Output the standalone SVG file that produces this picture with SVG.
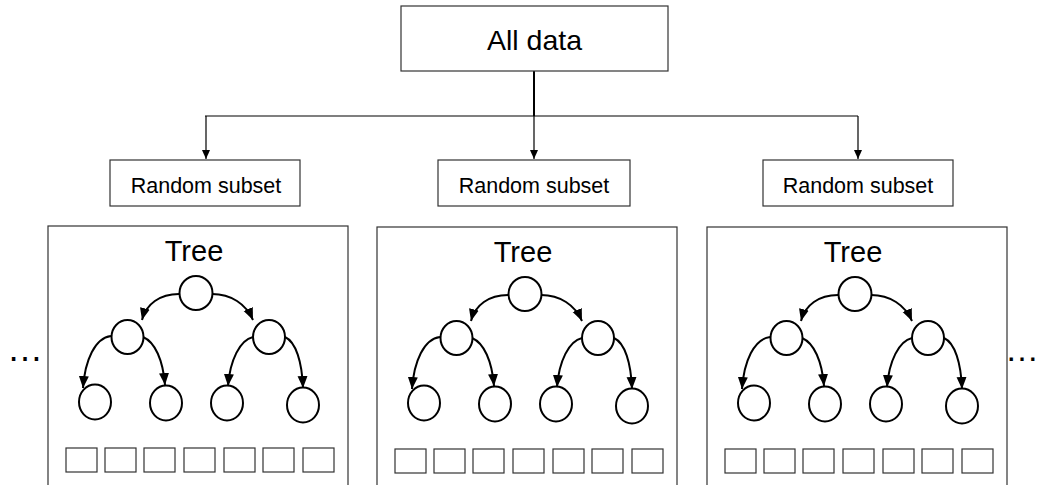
<svg xmlns="http://www.w3.org/2000/svg" width="1038" height="485" viewBox="0 0 1038 485">
<style>
text{font-family:"Liberation Sans",Arial,sans-serif;fill:#000}
.box{fill:#fff;stroke:#333;stroke-width:1.2}
.sq{fill:#fff;stroke:#333;stroke-width:1.2}
.nd{fill:#fff;stroke:#000;stroke-width:2}
.ta{fill:none;stroke:#000;stroke-width:2;marker-end:url(#ah)}
.ln{fill:none;stroke:#000;stroke-width:1.2}
</style>
<defs>
<marker id="ah" markerUnits="userSpaceOnUse" markerWidth="13" markerHeight="11" refX="12" refY="5" orient="auto">
<path d="M0,0 L12,5 L0,10 z" fill="#000"/>
</marker>
<marker id="ah2" markerUnits="userSpaceOnUse" markerWidth="10" markerHeight="10" refX="9" refY="4" orient="auto">
<path d="M0,0 L9,4 L0,8 z" fill="#000"/>
</marker>
</defs>
<g id="connectors">
<path d="M534,71 V116" fill="none" stroke="#000" stroke-width="2"/>
<path d="M205,116 H858" class="ln"/>
<path d="M206,116 V159" class="ln" marker-end="url(#ah2)"/>
<path d="M534,116 V159" class="ln" marker-end="url(#ah2)"/>
<path d="M858,116 V159" class="ln" marker-end="url(#ah2)"/>
</g>
<g id="all-data">
<rect x="401" y="6" width="267" height="65" class="box"/>
<text x="534.5" y="50" font-size="28.5" text-anchor="middle">All data</text>
</g>
<g id="subset-1">
<rect x="110" y="160" width="190" height="46" class="box"/>
<text x="206" y="192.5" font-size="21.5" text-anchor="middle">Random subset</text>
</g>
<g id="subset-2">
<rect x="438" y="160" width="192" height="46" class="box"/>
<text x="534" y="192.5" font-size="21.5" text-anchor="middle">Random subset</text>
</g>
<g id="subset-3">
<rect x="763" y="160" width="190" height="46" class="box"/>
<text x="858" y="192.5" font-size="21.5" text-anchor="middle">Random subset</text>
</g>
<g id="tree-1">
<rect x="48" y="226" width="300" height="270" class="box"/>
<text x="194" y="261" font-size="29" text-anchor="middle">Tree</text>
<path d="M179,294 C160,294 146,304 142,320" class="ta"/>
<path d="M212,294 C231,294 246,304 253,320" class="ta"/>
<path d="M111,336 C95,338 85,360 83,388" class="ta"/>
<path d="M143,337 C155,342 163,360 165,385" class="ta"/>
<path d="M253,337 C240,340 230,360 228,386" class="ta"/>
<path d="M285,337 C296,342 302,362 303,388" class="ta"/>
<ellipse cx="196" cy="293" rx="16.5" ry="17" class="nd"/>
<ellipse cx="127.5" cy="337" rx="16" ry="17" class="nd"/>
<ellipse cx="269" cy="337" rx="16" ry="17" class="nd"/>
<ellipse cx="95" cy="402" rx="16" ry="17.5" class="nd"/>
<ellipse cx="166" cy="403" rx="16" ry="17.5" class="nd"/>
<ellipse cx="227" cy="403" rx="16" ry="17.5" class="nd"/>
<ellipse cx="303" cy="405" rx="16" ry="17.5" class="nd"/>
<rect x="66" y="448" width="31" height="24" class="sq"/>
<rect x="105" y="448" width="31" height="24" class="sq"/>
<rect x="144" y="448" width="31" height="24" class="sq"/>
<rect x="184" y="448" width="31" height="24" class="sq"/>
<rect x="224" y="448" width="31" height="24" class="sq"/>
<rect x="263" y="448" width="31" height="24" class="sq"/>
<rect x="303" y="448" width="31" height="24" class="sq"/>
</g>
<g id="tree-2" transform="translate(329,1)">
<rect x="48" y="226" width="300" height="270" class="box"/>
<text x="194" y="261" font-size="29" text-anchor="middle">Tree</text>
<path d="M179,294 C160,294 146,304 142,320" class="ta"/>
<path d="M212,294 C231,294 246,304 253,320" class="ta"/>
<path d="M111,336 C95,338 85,360 83,388" class="ta"/>
<path d="M143,337 C155,342 163,360 165,385" class="ta"/>
<path d="M253,337 C240,340 230,360 228,386" class="ta"/>
<path d="M285,337 C296,342 302,362 303,388" class="ta"/>
<ellipse cx="196" cy="293" rx="16.5" ry="17" class="nd"/>
<ellipse cx="127.5" cy="337" rx="16" ry="17" class="nd"/>
<ellipse cx="269" cy="337" rx="16" ry="17" class="nd"/>
<ellipse cx="95" cy="402" rx="16" ry="17.5" class="nd"/>
<ellipse cx="166" cy="403" rx="16" ry="17.5" class="nd"/>
<ellipse cx="227" cy="403" rx="16" ry="17.5" class="nd"/>
<ellipse cx="303" cy="405" rx="16" ry="17.5" class="nd"/>
<rect x="66" y="448" width="31" height="24" class="sq"/>
<rect x="105" y="448" width="31" height="24" class="sq"/>
<rect x="144" y="448" width="31" height="24" class="sq"/>
<rect x="184" y="448" width="31" height="24" class="sq"/>
<rect x="224" y="448" width="31" height="24" class="sq"/>
<rect x="263" y="448" width="31" height="24" class="sq"/>
<rect x="303" y="448" width="31" height="24" class="sq"/>
</g>
<g id="tree-3" transform="translate(659,1)">
<rect x="48" y="226" width="300" height="270" class="box"/>
<text x="194" y="261" font-size="29" text-anchor="middle">Tree</text>
<path d="M179,294 C160,294 146,304 142,320" class="ta"/>
<path d="M212,294 C231,294 246,304 253,320" class="ta"/>
<path d="M111,336 C95,338 85,360 83,388" class="ta"/>
<path d="M143,337 C155,342 163,360 165,385" class="ta"/>
<path d="M253,337 C240,340 230,360 228,386" class="ta"/>
<path d="M285,337 C296,342 302,362 303,388" class="ta"/>
<ellipse cx="196" cy="293" rx="16.5" ry="17" class="nd"/>
<ellipse cx="127.5" cy="337" rx="16" ry="17" class="nd"/>
<ellipse cx="269" cy="337" rx="16" ry="17" class="nd"/>
<ellipse cx="95" cy="402" rx="16" ry="17.5" class="nd"/>
<ellipse cx="166" cy="403" rx="16" ry="17.5" class="nd"/>
<ellipse cx="227" cy="403" rx="16" ry="17.5" class="nd"/>
<ellipse cx="303" cy="405" rx="16" ry="17.5" class="nd"/>
<rect x="66" y="448" width="31" height="24" class="sq"/>
<rect x="105" y="448" width="31" height="24" class="sq"/>
<rect x="144" y="448" width="31" height="24" class="sq"/>
<rect x="184" y="448" width="31" height="24" class="sq"/>
<rect x="224" y="448" width="31" height="24" class="sq"/>
<rect x="263" y="448" width="31" height="24" class="sq"/>
<rect x="303" y="448" width="31" height="24" class="sq"/>
</g>
<g id="ellipsis-left">
<text x="25" y="361" font-size="36" text-anchor="middle">…</text>
</g>
<g id="ellipsis-right">
<text x="1022" y="361" font-size="34" text-anchor="middle">…</text>
</g>
</svg>
